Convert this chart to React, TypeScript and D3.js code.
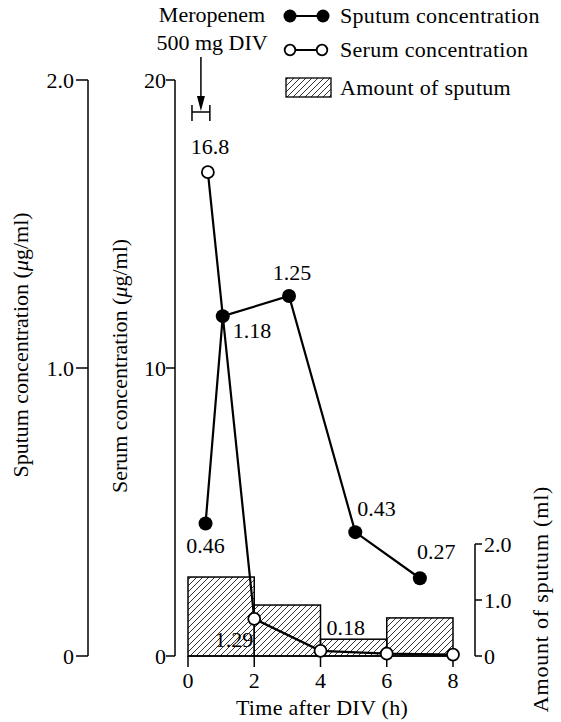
import React from "react";
import * as d3 from "d3";

const timeTicks = [0, 2, 4, 6, 8];
const sputumTicks = [0, 1, 2];
const sputumTickLabels = ["0", "1.0", "2.0"];
const serumTicks = [0, 10, 20];
const serumTickLabels = ["0", "10", "20"];
const amountTicks = [0, 1, 2];
const amountTickLabels = ["0", "1.0", "2.0"];

const sputumTimes = [0.53, 1.05, 3.05, 5.05, 7.0];
const sputumValues = [0.46, 1.18, 1.25, 0.43, 0.27];
const sputumLabels = ["0.46", "1.18", "1.25", "0.43", "0.27"];

const serumTimes = [0.6, 2, 4, 6, 8];
const serumValues = [16.8, 1.29, 0.18, 0.08, 0.05];
const serumLabels = ["16.8", "1.29", "0.18", "", ""];

const amountStart = [0, 2, 4, 6];
const amountEnd = [2, 4, 6, 8];
const amountValues = [1.41, 0.91, 0.3, 0.68];

const doseStart = 0.12;
const doseEnd = 0.66;
const doseArrowAt = 0.39;

// label placement: [dx, dy, anchor]
const sputumLabelPlace: [number, number, string][] = [
  [0, 29, "middle"],
  [10, 22, "start"],
  [3, -16, "middle"],
  [2, -16, "start"],
  [-3, -19, "start"],
];
const serumLabelPlace: [number, number, string][] = [
  [2, -18, "middle"],
  [-1, 28, "end"],
  [6, -16, "start"],
  [0, 0, "start"],
  [0, 0, "start"],
];

const FONT = "Liberation Serif, DejaVu Serif, Times New Roman, serif";
const FS = 22;

export default function App() {
  const x = d3.scaleLinear().domain([0, 8]).range([188, 453]);
  const ySp = d3.scaleLinear().domain([0, 2]).range([656, 80]);
  const ySe = d3.scaleLinear().domain([0, 20]).range([656, 80]);
  const yAm = d3.scaleLinear().domain([0, 2]).range([656, 544]);

  const spPts = sputumTimes.map((t, i) => [x(t), ySp(sputumValues[i])] as [number, number]);
  const sePts = serumTimes.map((t, i) => [x(t), ySe(serumValues[i])] as [number, number]);
  const line = d3.line();

  const axisLeftSp = 88;
  const axisLeftSe = 175;
  const axisRight = 475;
  const ax = x(doseArrowAt);

  return (
    <svg width={561} height={722} style={{ position: "absolute", left: 0, top: 0, background: "#fff", fontFamily: FONT, fontSize: FS }}>
      <defs>
        <pattern id="hatch" patternUnits="userSpaceOnUse" width={6} height={6}>
          <path d="M0,6 L6,0 M-1,1 L1,-1 M5,7 L7,5" stroke="#000" strokeWidth={0.8} />
        </pattern>
      </defs>
      <rect width={561} height={722} fill="#fff" />

      {amountValues.map((v, i) => (
        <rect key={"b" + i} x={x(amountStart[i])} y={yAm(v)} width={x(amountEnd[i]) - x(amountStart[i])}
          height={yAm(0) - yAm(v)} fill="url(#hatch)" stroke="#000" strokeWidth={1.5} />
      ))}

      <line x1={x(0)} x2={x(8)} y1={656} y2={656} stroke="#000" strokeWidth={1.5} />
      {timeTicks.map((t) => (
        <g key={"xt" + t}>
          <line x1={x(t)} x2={x(t)} y1={656} y2={667} stroke="#000" strokeWidth={1.5} />
          <text x={x(t)} y={688} textAnchor="middle">{t}</text>
        </g>
      ))}
      <text x={322} y={715} textAnchor="middle" letterSpacing={0.3}>Time after DIV (h)</text>

      <line x1={axisLeftSp} x2={axisLeftSp} y1={ySp(2)} y2={ySp(0)} stroke="#000" strokeWidth={1.5} />
      {sputumTicks.map((v, i) => (
        <g key={"sp" + v}>
          <line x1={axisLeftSp - 12} x2={axisLeftSp} y1={ySp(v)} y2={ySp(v)} stroke="#000" strokeWidth={1.5} />
          <text x={axisLeftSp - 14} y={ySp(v) + 8} textAnchor="end">{sputumTickLabels[i]}</text>
        </g>
      ))}
      <text transform="translate(28,345) rotate(-90)" textAnchor="middle">
        Sputum concentration (<tspan fontStyle="italic">μ</tspan>g/ml)
      </text>

      <line x1={axisLeftSe} x2={axisLeftSe} y1={ySe(20)} y2={ySe(0)} stroke="#000" strokeWidth={1.5} />
      {serumTicks.map((v, i) => (
        <g key={"se" + v}>
          <line x1={axisLeftSe - 9} x2={axisLeftSe} y1={ySe(v)} y2={ySe(v)} stroke="#000" strokeWidth={1.5} />
          <text x={axisLeftSe - 9} y={ySe(v) + 8} textAnchor="end">{serumTickLabels[i]}</text>
        </g>
      ))}
      <text transform="translate(127,366) rotate(-90)" textAnchor="middle">
        Serum concentration (<tspan fontStyle="italic">μ</tspan>g/ml)
      </text>

      <line x1={axisRight} x2={axisRight} y1={yAm(2)} y2={yAm(0)} stroke="#000" strokeWidth={1.5} />
      {amountTicks.map((v, i) => (
        <g key={"am" + v}>
          <line x1={axisRight} x2={axisRight + 7} y1={yAm(v)} y2={yAm(v)} stroke="#000" strokeWidth={1.5} />
          <text x={axisRight + 9} y={yAm(v) + 8} textAnchor="start">{amountTickLabels[i]}</text>
        </g>
      ))}
      <text transform="translate(548,599) rotate(-90)" textAnchor="middle" letterSpacing={0.8}>Amount of sputum (ml)</text>

      <path d={line(sePts) || ""} fill="none" stroke="#000" strokeWidth={2.2} />
      <path d={line(spPts) || ""} fill="none" stroke="#000" strokeWidth={2.2} />

      {sePts.map((p, i) => (
        <circle key={"sc" + i} cx={p[0]} cy={p[1]} r={6} fill="#fff" stroke="#000" strokeWidth={1.8} />
      ))}
      {spPts.map((p, i) => (
        <circle key={"pc" + i} cx={p[0]} cy={p[1]} r={7} fill="#000" />
      ))}

      {sePts.map((p, i) =>
        serumLabels[i] ? (
          <text key={"sl" + i} x={p[0] + serumLabelPlace[i][0]} y={p[1] + serumLabelPlace[i][1]}
            textAnchor={serumLabelPlace[i][2] as any}>{serumLabels[i]}</text>
        ) : null
      )}
      {spPts.map((p, i) => (
        <text key={"pl" + i} x={p[0] + sputumLabelPlace[i][0]} y={p[1] + sputumLabelPlace[i][1]}
          textAnchor={sputumLabelPlace[i][2] as any}>{sputumLabels[i]}</text>
      ))}

      <text x={212} y={22} textAnchor="middle">Meropenem</text>
      <text x={212} y={50} textAnchor="middle">500 mg DIV</text>
      <line x1={ax} x2={ax} y1={57} y2={100} stroke="#000" strokeWidth={1.5} />
      <path d={`M${ax},111 L${ax - 4},96 L${ax + 4},96 Z`} fill="#000" />
      <line x1={x(doseStart)} x2={x(doseEnd)} y1={112} y2={112} stroke="#000" strokeWidth={1.5} />
      <line x1={x(doseStart)} x2={x(doseStart)} y1={105} y2={121} stroke="#000" strokeWidth={1.5} />
      <line x1={x(doseEnd)} x2={x(doseEnd)} y1={105} y2={121} stroke="#000" strokeWidth={1.5} />

      <line x1={290} x2={323} y1={16} y2={16} stroke="#000" strokeWidth={2} />
      <circle cx={290} cy={16} r={6.5} fill="#000" />
      <circle cx={323} cy={16} r={6.5} fill="#000" />
      <text x={340} y={23} letterSpacing={0.3}>Sputum concentration</text>

      <line x1={290} x2={322} y1={50} y2={50} stroke="#000" strokeWidth={2} />
      <circle cx={290} cy={50} r={5.3} fill="#fff" stroke="#000" strokeWidth={1.8} />
      <circle cx={322} cy={50} r={5.3} fill="#fff" stroke="#000" strokeWidth={1.8} />
      <text x={340} y={57} letterSpacing={0.3}>Serum concentration</text>

      <rect x={286} y={78} width={45} height={19} fill="url(#hatch)" stroke="#000" strokeWidth={1.3} />
      <text x={340} y={95} letterSpacing={0.3}>Amount of sputum</text>
    </svg>
  );
}
